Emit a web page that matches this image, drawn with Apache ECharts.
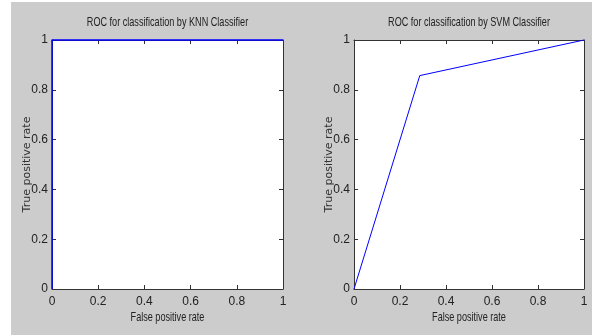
<!DOCTYPE html>
<html><head><meta charset="utf-8">
<script src="https://cdn.jsdelivr.net/npm/echarts@6/dist/echarts.min.js"></script>
<style>html,body{margin:0;padding:0;background:#fff}#c{width:592px;height:335px}</style>
</head><body><div id="c"></div>
<script>
const titles = ['ROC for classification by KNN Classifier', 'ROC for classification by SVM Classifier'];
const xTitle = 'False positive rate';
const yTitle = 'True positive rate';
const knnFPR = [0, 0, 1];
const knnTPR = [0, 1, 1];
const svmFPR = [0, 0.286, 1];
const svmTPR = [0, 0.857, 1];

const sans = '"Liberation Sans", Arial, sans-serif';
const grids = [
  {left: 52, top: 40, width: 231, height: 249},
  {left: 354, top: 40, width: 230, height: 249}
];
const lineCol = '#333';
function mkX(gi, pos, labels) {
  return {type: 'value', gridIndex: gi, position: pos, min: 0, max: 1, interval: 0.2,
    axisLine: {show: true, onZero: false, lineStyle: {color: lineCol, width: 1}},
    axisTick: {show: true, inside: true, length: 4, lineStyle: {color: lineCol}},
    axisLabel: {show: labels, margin: 7, fontFamily: sans, fontSize: 12, color: '#222'},
    splitLine: {show: false}};
}
function mkY(gi, pos, labels) {
  return {type: 'value', gridIndex: gi, position: pos, min: 0, max: 1, interval: 0.2,
    name: labels ? yTitle : '', nameLocation: 'middle', nameGap: 19, nameMoveOverlap: false,
    nameTextStyle: {fontFamily: '"DejaVu Sans", sans-serif', fontSize: 11, color: '#333'},
    axisLine: {show: true, onZero: false, lineStyle: {color: lineCol, width: 1}},
    axisTick: {show: true, inside: true, length: 4, lineStyle: {color: lineCol}},
    axisLabel: {show: labels, margin: 4, fontFamily: sans, fontSize: 12, color: '#222'},
    splitLine: {show: false}};
}
function narrowText(text, cx, cy) {
  return {type: 'text', x: cx, y: cy, scaleX: 0.7, z: 10,
    style: {text: text, font: '13px "Liberation Sans", Arial, sans-serif', fill: '#222',
      textAlign: 'center', textVerticalAlign: 'middle', align: 'center', verticalAlign: 'middle'}};
}
const graphics = [{type: 'rect', z: -10, shape: {x: 11, y: 2, width: 581, height: 333}, style: {fill: '#cccccc'}}];
grids.forEach((g, i) => {
  const cx = g.left + g.width / 2;
  graphics.push(narrowText(titles[i], cx, 22));
  graphics.push(narrowText(xTitle, cx, 317));
});
const chart = echarts.init(document.getElementById('c'), null, {renderer: 'canvas'});
chart.setOption({
  animation: false,
  backgroundColor: '#fff',
  graphic: graphics,
  grid: grids.map(g => Object.assign({show: true, backgroundColor: '#fff', borderWidth: 0}, g)),
  xAxis: [mkX(0, 'bottom', true), mkX(0, 'top', false), mkX(1, 'bottom', true), mkX(1, 'top', false)],
  yAxis: [mkY(0, 'left', true), mkY(0, 'right', false), mkY(1, 'left', true), mkY(1, 'right', false)],
  series: [
    {type: 'line', xAxisIndex: 0, yAxisIndex: 0, data: knnFPR.map((x, i) => [x, knnTPR[i]]),
     showSymbol: false, clip: false, lineStyle: {color: '#0000ff', width: 1.5}, z: 5},
    {type: 'line', xAxisIndex: 2, yAxisIndex: 2, data: svmFPR.map((x, i) => [x, svmTPR[i]]),
     showSymbol: false, clip: false, lineStyle: {color: '#0000ff', width: 1}, z: 5}
  ]
});
</script></body></html>
